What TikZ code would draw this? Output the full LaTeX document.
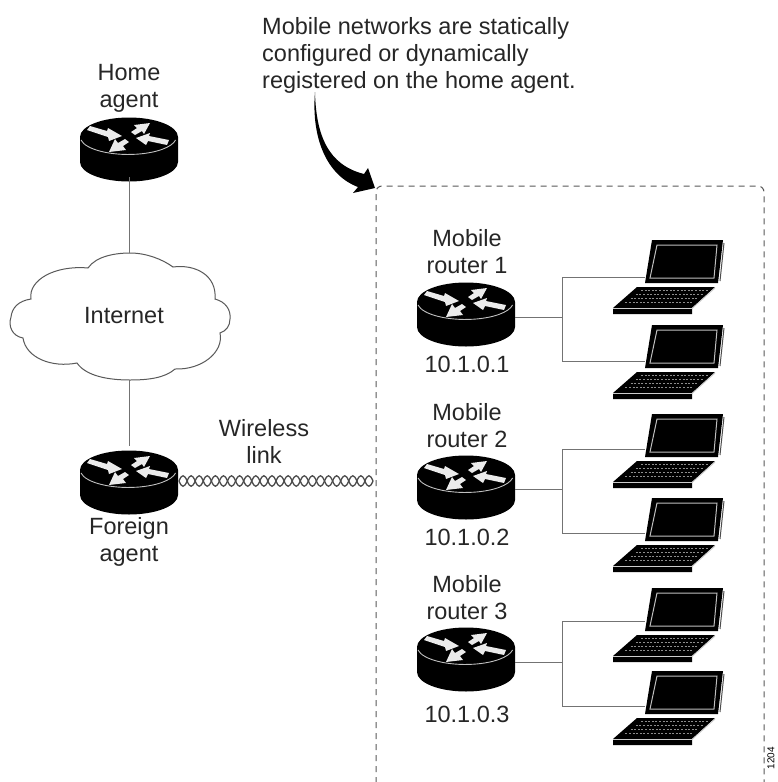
\documentclass[tikz,border=0pt]{standalone}
\usepackage{fontspec}
\setmainfont{Liberation Sans}
\usetikzlibrary{calc}
\tikzset{
  x=1pt,y=-1pt,
  conn/.style={draw=black!55,line width=1pt},
  lbl/.style={font=\fontsize{23.5}{27}\selectfont,align=center,text=black!85,inner sep=0pt},
  routerbox/.style={minimum width=98pt,minimum height=64pt,inner sep=0pt},
  laptopbox/.style={minimum width=110pt,minimum height=78pt,inner sep=0pt},
  rarrow/.style={fill=white!92!black},
}
\newcommand{\routerpic}[3]{%
 \node[routerbox] (#1) at (#2,#3+8) {};
 \begin{scope}[shift={(#2,#3)}]
  \fill[black] (-49,0) -- (-49,25) arc[x radius=49,y radius=19.5,start angle=180,end angle=0] -- (49,0) arc[x radius=49,y radius=19.5,start angle=0,end angle=-180] -- cycle;
  \draw[white!75!black,line width=.9pt] (-48,3) arc[x radius=48,y radius=17.5,start angle=170,end angle=10];
  \fill[rarrow] (-42,-7) -- (-39,-11) -- (-22,-6) -- (-21,-9) -- (-7,-1) -- (-20,4) -- (-21,0) -- cycle;
  \fill[rarrow] (21,-14) -- (5,-12) -- (8,-9) -- (2,-5) -- (6,-2) -- (13,-6) -- (15,-3) -- cycle;
  \fill[rarrow] (-20,15) -- (-3,13) -- (-6,9) -- (0,5) -- (-4,2) -- (-11,6) -- (-14,2) -- cycle;
  \fill[rarrow] (7,1) -- (21,-4) -- (20,-1) -- (40,3) -- (38,8) -- (19,4) -- (17,8) -- cycle;
 \end{scope}}
\newcommand{\laptoppic}[3]{%
 \node[laptopbox] (#1) at (#2,#3) {};
 \begin{scope}[shift={(#2,#3)}]
  \fill[black] (-10,-41) -- (61,-41) -- (56,2) -- (-17,2) -- cycle;
  \draw[black!70,line width=1pt] (62,-38) -- (58,0);
  \draw[white!75!black,line width=1pt] (-5,-36) -- (55,-36) -- (52,-3) -- (-12,-3) -- cycle;
  \fill[black] (-25,6) -- (53,6) -- (30,27) -- (30,33) -- (-49,33) -- (-49,27) -- cycle;
  \foreach \r in {0,1,2,3}{
    \draw[white!55!black,line width=1pt,dash pattern=on 2pt off 1.6pt] ({-21-\r*5.2},{9.5+\r*4}) -- ({47-\r*5.2},{9.5+\r*4});}
  \draw[white!80!black,line width=.9pt] (-49,27.5) -- (30,27.5) -- (53,7);
 \end{scope}}
\newcommand{\wavy}[3]{% from x #1 to x #2 at y #3
 \pgfmathsetmacro{\wavew}{(#2-#1)/24}
 \foreach \i in {0,...,23}{
  \draw[black!70,line width=1.3pt] ({#1+\i*\wavew},#3) .. controls ({#1+(\i+.35)*\wavew},{#3-7}) and ({#1+(\i+.65)*\wavew},{#3-7}) .. ({#1+(\i+1)*\wavew},#3);
  \draw[black!70,line width=1.3pt] ({#1+\i*\wavew},#3) .. controls ({#1+(\i+.35)*\wavew},{#3+7}) and ({#1+(\i+.65)*\wavew},{#3+7}) .. ({#1+(\i+1)*\wavew},#3);
 }}
\begin{document}
\begin{tikzpicture}
\useasboundingbox (0,0) rectangle (778,782);
\fill[white] (0,0) rectangle (778,782);
% texts
\node[lbl,anchor=west,align=left] (note) at (262,55) {Mobile networks are statically\\configured or dynamically\\registered on the home agent.};
\node[lbl] (homelbl) at (129,88) {Home\\agent};
\node[lbl] (forlbl) at (129,542) {Foreign\\agent};
\node[lbl] (wireless) at (264,441) {Wireless\\link};
\node[lbl] (m1) at (467,252) {Mobile\\router 1};
\node[lbl] (a1) at (467,364) {10.1.0.1};
\node[lbl] (m2) at (467,426) {Mobile\\router 2};
\node[lbl] (a2) at (467,537) {10.1.0.2};
\node[lbl] (m3) at (467,598) {Mobile\\router 3};
\node[lbl] (a3) at (467,714) {10.1.0.3};
% routers
\routerpic{home}{129}{137}
\routerpic{foreign}{129}{470}
\routerpic{r1}{466}{302}
\routerpic{r2}{466}{475}
\routerpic{r3}{466}{647}
% cloud
\node[minimum width=212pt,minimum height=127pt,inner sep=0pt] (cloud) at (124,316.5) {};
\draw[black!65,line width=1pt,fill=white]
 (88,268) .. controls (96,256) and (116,253) .. (130,253)
 .. controls (146,253) and (162,259) .. (173,267)
 .. controls (195,264) and (217,275) .. (215,299)
 .. controls (226,302) and (231,310) .. (230,319)
 .. controls (230,326) and (226,331) .. (220,333)
 .. controls (224,352) and (202,370) .. (175,369)
 .. controls (165,378) and (148,380) .. (130,380)
 .. controls (108,380) and (86,376) .. (77,363)
 .. controls (52,368) and (26,358) .. (23,338)
 .. controls (12,336) and (8,326) .. (11,317)
 .. controls (12,308) and (18,301) .. (31,299)
 .. controls (28,280) and (55,265) .. (88,268) -- cycle;
\node[lbl] (inet) at (124,316) {Internet};
% connectors
\draw[conn] (home.south) -- (home.south|-cloud.north);
\draw[conn] (foreign.north) -- (foreign.north|-cloud.south);
% wireless
\wavy{179}{373}{481}
% dashed box
\draw[black!65,line width=1pt,dash pattern=on 6pt off 5pt,rounded corners=6pt] (376,783) -- (376,186) -- (764,186) -- (764,783);
% arrow
\fill[black] (315,92) .. controls (316,135) and (328,165) .. (364,174)
 -- (368,168) -- (375,188) -- (353,193) -- (358,187)
 .. controls (328,176) and (311,140) .. (315,92) -- cycle;
% laptops
\laptoppic{l11}{662}{281}
\laptoppic{l12}{662}{366}
\laptoppic{l21}{662}{455}
\laptoppic{l22}{662}{539}
\laptoppic{l31}{662}{629}
\laptoppic{l32}{662}{712}
% links
\foreach \r/\a/\b/\y/\ya/\yb in {r1/l11/l12/317/277/361,r2/l21/l22/489/449/533,r3/l31/l32/662/621/706}{
 \coordinate (j) at (562,\y);
 \coordinate (ja) at (562,\ya);
 \coordinate (jb) at (562,\yb);
 \draw[conn] (\r.east|-j) -- (j);
 \draw[conn] (ja) -- (jb);
 \draw[conn] (ja) -- ++(83,0);
 \draw[conn] (jb) -- ++(83,0);
}
% id
\node[rotate=90,font=\fontsize{10}{12}\selectfont,inner sep=0pt] (tag) at (771,758) {1204};
\end{tikzpicture}
\end{document}
